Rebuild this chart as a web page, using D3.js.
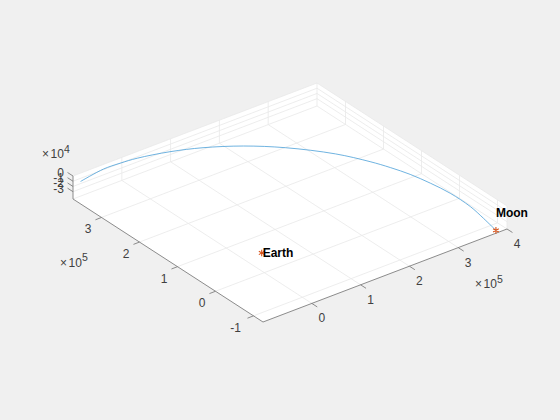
<!DOCTYPE html>
<html>
<head>
<meta charset="utf-8">
<script src="https://d3js.org/d3.v7.min.js"></script>
<style>
  html, body { margin: 0; padding: 0; background: #f0f0f0; }
  svg { display: block; }
  text { font-family: "Liberation Sans", Arial, sans-serif; fill: #404040; opacity: 0.999; }
</style>
</head>
<body>
<svg id="chart" width="560" height="420"></svg>
<script>
// Tick labels (x and y in 1e5, z in 1e4)
const xTicks = [0, 1, 2, 3, 4];
const yTicks = [-1, 0, 1, 2, 3];
const zTicks = [0, -1, -2, -3];

// Trajectory
const pathX = [-1.0, -0.40, -0.05, 0.30, 0.91, 1.47, 2.08, 2.64, 3.21, 3.53, 3.68, 3.80, 3.89, 3.95, 3.95, 3.89, 3.82];
const pathY = [3.55, 3.72, 3.73, 3.73, 3.65, 3.50, 3.22, 2.83, 2.25, 1.75, 1.40, 1.04, 0.62, 0.18, -0.35, -0.77, -1.19];
const pathZ = [-0.1, -0.67, -0.84, -1.13, -1.68, -2.2, -2.73, -3.21, -3.69, -3.96, -4.0, -4.02, -4.06, -4.11, -4.17, -4.21, -4.3];

const bodyNames = ["Earth", "Moon"];
const bodyX = [-0.1, 3.82];
const bodyY = [-0.06, -1.19];
const bodyZ = [0, -4.3];

// Box domain
const xDomain = [-1, 4];
const yDomain = [-1.25, 3.75];
const zDomain = [-4.4, 0];

// Screen position of the box: front corner and one vector per axis
const front = [263, 322];
const xVec = [244, -93];
const yVec = [-190, -123];
const zVec = [0, -23];

const xScale = d3.scaleLinear().domain(xDomain).range([0, 1]);
const yScale = d3.scaleLinear().domain(yDomain).range([0, 1]);
const zScale = d3.scaleLinear().domain(zDomain).range([0, 1]);

function project(x, y, z) {
  const a = xScale(x), b = yScale(y), c = zScale(z);
  return [
    front[0] + a * xVec[0] + b * yVec[0] + c * zVec[0],
    front[1] + a * xVec[1] + b * yVec[1] + c * zVec[1]
  ];
}

const svg = d3.select("#chart");
const xMin = xDomain[0], xMax = xDomain[1];
const yMin = yDomain[0], yMax = yDomain[1];
const zMin = zDomain[0], zMax = zDomain[1];

// White faces of the box
svg.append("polygon")
  .attr("fill", "#ffffff")
  .attr("points", [
    project(xMin, yMin, zMin),
    project(xMin, yMax, zMin),
    project(xMin, yMax, zMax),
    project(xMax, yMax, zMax),
    project(xMax, yMin, zMax),
    project(xMax, yMin, zMin)
  ].map(p => p.join(",")).join(" "));

// Grid lines, as pairs of 3d end points
const gridLines = [];
xTicks.forEach(x => {
  gridLines.push([[x, yMin, zMin], [x, yMax, zMin]]);
  gridLines.push([[x, yMax, zMin], [x, yMax, zMax]]);
});
yTicks.forEach(y => {
  gridLines.push([[xMin, y, zMin], [xMax, y, zMin]]);
  gridLines.push([[xMax, y, zMin], [xMax, y, zMax]]);
});
zTicks.forEach(z => {
  gridLines.push([[xMin, yMax, z], [xMax, yMax, z]]);
  gridLines.push([[xMax, yMax, z], [xMax, yMin, z]]);
});
// Box edges that no tick gives
gridLines.push([[xMin, yMax, zMin], [xMax, yMax, zMin]]);
gridLines.push([[xMax, yMin, zMin], [xMax, yMin, zMax]]);

svg.append("g")
  .selectAll("line")
  .data(gridLines)
  .enter()
  .append("line")
  .attr("x1", d => project(...d[0])[0])
  .attr("y1", d => project(...d[0])[1])
  .attr("x2", d => project(...d[1])[0])
  .attr("y2", d => project(...d[1])[1])
  .attr("stroke", "#e9e9e9")
  .attr("stroke-width", 0.8);

// Axis lines
const axisColor = "#7f7f7f";
const axisLines = [
  [[xMin, yMin, zMin], [xMax, yMin, zMin]],
  [[xMin, yMin, zMin], [xMin, yMax, zMin]],
  [[xMin, yMax, zMin], [xMin, yMax, zMax]]
];
svg.append("g")
  .selectAll("line")
  .data(axisLines)
  .enter()
  .append("line")
  .attr("x1", d => project(...d[0])[0])
  .attr("y1", d => project(...d[0])[1])
  .attr("x2", d => project(...d[1])[0])
  .attr("y2", d => project(...d[1])[1])
  .attr("stroke", axisColor)
  .attr("stroke-width", 0.9);

// Ticks and labels
const tickLen = 6.5;
const fontSize = 12;

function drawTick(p, dx, dy) {
  svg.append("line")
    .attr("x1", p[0]).attr("y1", p[1])
    .attr("x2", p[0] + dx).attr("y2", p[1] + dy)
    .attr("stroke", axisColor)
    .attr("stroke-width", 0.9);
}

xTicks.forEach(x => {
  const p = project(x, yMin, zMin);
  drawTick(p, 0.84 * tickLen, 0.54 * tickLen);
  svg.append("text")
    .attr("x", p[0] + 10)
    .attr("y", p[1] + 19)
    .attr("text-anchor", "middle")
    .attr("font-size", fontSize)
    .text(x);
});

yTicks.forEach(y => {
  const p = project(xMin, y, zMin);
  drawTick(p, -0.93 * tickLen, 0.36 * tickLen);
  svg.append("text")
    .attr("x", p[0] - (y < 0 ? 18 : 13.5))
    .attr("y", p[1] + 16)
    .attr("text-anchor", "middle")
    .attr("font-size", fontSize)
    .text(y);
});

zTicks.forEach(z => {
  const p = project(xMin, yMax, z);
  drawTick(p, -0.84 * tickLen, -0.54 * tickLen);
  svg.append("text")
    .attr("x", 64)
    .attr("y", p[1] + 1)
    .attr("text-anchor", "end")
    .attr("font-size", fontSize)
    .text(z);
});

// Exponent labels
function drawExponent(x, y, power) {
  const label = svg.append("text")
    .attr("x", x)
    .attr("y", y)
    .attr("font-size", fontSize);
  label.append("tspan").text("\u00d7");
  label.append("tspan").attr("dx", 1.5).text("10");
  label.append("tspan")
    .attr("dy", -5.5)
    .attr("font-size", 10.5)
    .text(power);
}
drawExponent(42, 158, 4);
drawExponent(60, 266.5, 5);
drawExponent(475, 288, 5);

// Trajectory
const pathPoints = pathX.map((x, i) => project(x, pathY[i], pathZ[i]));
svg.append("path")
  .attr("d", d3.line().curve(d3.curveCatmullRom)(pathPoints))
  .attr("fill", "none")
  .attr("stroke", "#4a9fd8")
  .attr("stroke-width", 0.8);

// Earth and Moon
const star = d3.symbol().type(d3.symbolAsterisk).size(30);
const labelOffsets = [[1, 4.5], [0, -13.5]];
bodyNames.forEach((name, i) => {
  const p = project(bodyX[i], bodyY[i], bodyZ[i]);
  svg.append("path")
    .attr("d", star())
    .attr("transform", "translate(" + p[0] + "," + p[1] + ")")
    .attr("fill", "none")
    .attr("stroke", "#d95319")
    .attr("stroke-width", 1.1);
  svg.append("text")
    .attr("x", p[0] + labelOffsets[i][0])
    .attr("y", p[1] + labelOffsets[i][1])
    .attr("font-size", fontSize)
    .attr("font-weight", "bold")
    .style("fill", "#000000")
    .text(name);
});
</script>
</body>
</html>
